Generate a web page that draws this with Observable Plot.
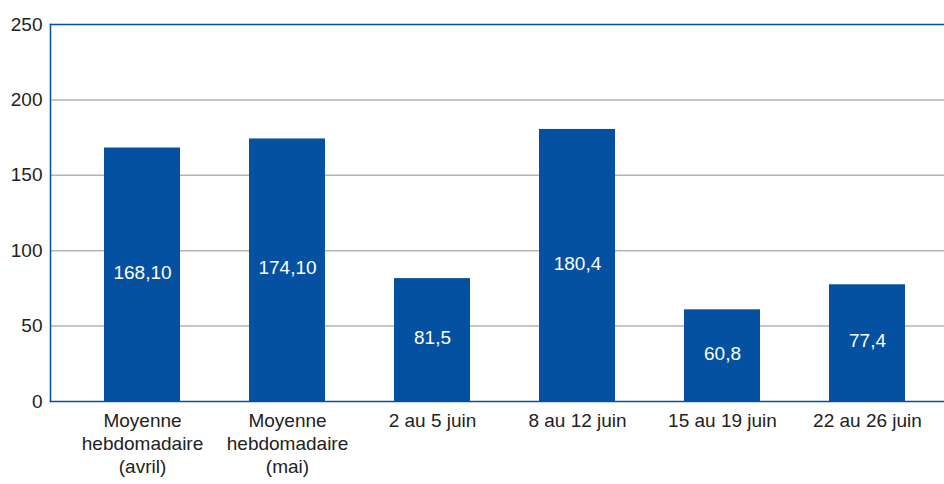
<!DOCTYPE html>
<html>
<head>
<meta charset="utf-8">
<script src="https://cdn.jsdelivr.net/npm/d3@7"></script>
<script src="https://cdn.jsdelivr.net/npm/@observablehq/plot@0.6"></script>
<style>
  html, body { margin: 0; padding: 0; background: #fff; overflow: hidden; }
  svg { display: block; }
</style>
</head>
<body>
<div id="chart"></div>
<script>
const categories = [
  "Moyenne\nhebdomadaire\n(avril)",
  "Moyenne\nhebdomadaire\n(mai)",
  "2 au 5 juin",
  "8 au 12 juin",
  "15 au 19 juin",
  "22 au 26 juin"
];
const values = [168.10, 174.10, 81.5, 180.4, 60.8, 77.4];
const valueLabels = ["168,10", "174,10", "81,5", "180,4", "60,8", "77,4"];
const yTicks = [0, 50, 100, 150, 200, 250];

const data = categories.map((c, i) => ({cat: c, value: values[i], label: valueLabels[i]}));

const blue = "#0451a1";

const chart = Plot.plot({
  width: 944,
  height: 484,
  marginLeft: 50,
  marginRight: 0,
  marginTop: 24,
  marginBottom: 83,
  style: {fontFamily: "'Liberation Sans', Arial, sans-serif", fontSize: "19px", color: "#222", background: "#fff"},
  x: {domain: categories, range: [69.5, 939.5], paddingInner: 0.476, paddingOuter: 0.238},
  y: {domain: [0, 250], ticks: yTicks},
  marks: [
    Plot.gridY(yTicks.filter(d => d > 0 && d < 250), {stroke: "#b3b3b3", strokeOpacity: 1, strokeWidth: 1.5}),
    Plot.barY(data, {x: "cat", y: "value", fill: blue}),
    Plot.text(data, {x: "cat", y: d => d.value / 2, text: "label", fill: "white", fontSize: 19, dy: -2}),
    Plot.frame({anchor: "left", stroke: blue, strokeWidth: 1.5}),
    Plot.frame({anchor: "top", stroke: blue, strokeWidth: 1.5}),
    Plot.frame({anchor: "bottom", stroke: blue, strokeWidth: 1.5}),
    Plot.axisY(yTicks, {tickSize: 0, tickPadding: 8, label: null, fontSize: 19, fill: "#222"}),
    Plot.axisX({tickSize: 0, tickPadding: 9, label: null, fontSize: 19, fill: "#222", lineHeight: 1.21})
  ]
});
document.getElementById("chart").appendChild(chart);
</script>
</body>
</html>
